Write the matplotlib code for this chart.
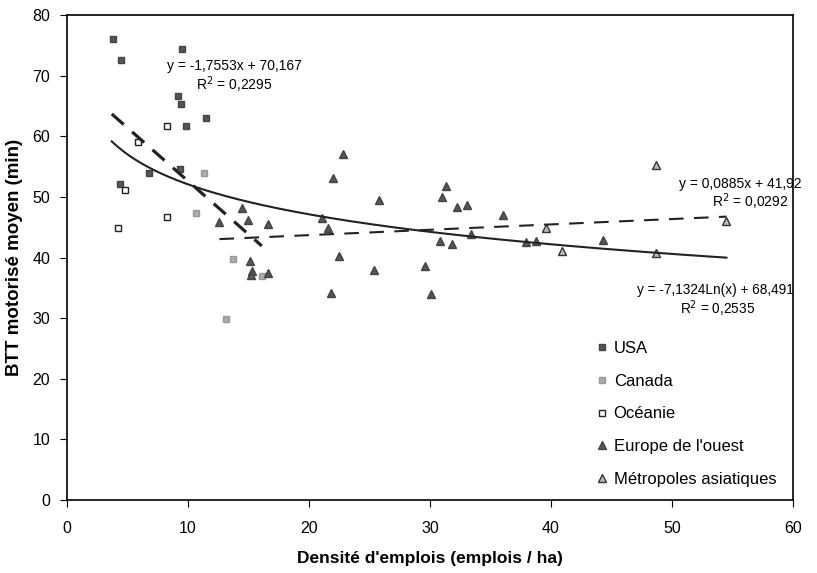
import numpy as np
import matplotlib
matplotlib.use('Agg')
import matplotlib.pyplot as plt

plt.rcParams['font.family'] = ['Liberation Sans', 'DejaVu Sans']

# points (densite d'emplois, BTT moyen)
usa_x = [3.8, 4.5, 9.5, 9.2, 9.4, 9.8, 11.5, 6.8, 9.3, 4.4]
usa_y = [76.0, 72.6, 74.4, 66.7, 65.3, 61.7, 63.0, 53.9, 54.6, 52.1]
canada_x = [11.3, 10.7, 13.7, 16.1, 13.1]
canada_y = [53.9, 47.3, 39.8, 37.0, 29.8]
oceanie_x = [8.3, 5.9, 4.8, 8.3, 4.2]
oceanie_y = [61.7, 59.0, 51.2, 46.6, 44.8]
europe_x = [14.5, 12.6, 15.0, 16.6, 15.1, 15.3, 15.2, 16.6, 22.8, 22.0, 25.8, 31.3, 31.0,
            32.2, 33.1, 21.1, 21.6, 22.5, 25.4, 21.8, 29.6, 30.1, 30.8, 31.8, 33.4,
            36.0, 37.9, 38.8, 44.3]
europe_y = [48.1, 45.9, 46.2, 45.5, 39.5, 37.8, 37.1, 37.5, 57.1, 53.1, 49.5, 51.8, 50.0,
            48.3, 48.7, 46.5, 44.8, 40.3, 38.0, 34.2, 38.6, 34.0, 42.7, 42.2, 43.9,
            47.0, 42.5, 42.7, 42.9]
asie_x = [39.6, 40.9, 48.7, 48.7, 54.5]
asie_y = [44.9, 41.1, 55.2, 40.7, 46.0]

# droites de tendance (equations affichees)
lin1_x = np.linspace(3.7, 16.1, 50)
lin1_y = -1.7553 * lin1_x + 70.167
lin2_x = np.linspace(12.6, 54.5, 50)
lin2_y = 0.0885 * lin2_x + 41.92
log_x = np.linspace(3.7, 54.5, 200)
log_y = -7.1324 * np.log(log_x) + 68.491

fig = plt.figure(figsize=(8.17, 5.73), dpi=100)
ax = fig.add_axes([0.082, 0.1274, 0.8886, 0.8464])

ax.plot(usa_x, usa_y, 's', ms=4.5, color='#555555', mec='#444444', label='USA')
ax.plot(canada_x, canada_y, 's', ms=4.5, color='#aaaaaa', mec='#999999', label='Canada')
ax.plot(oceanie_x, oceanie_y, 's', ms=4.5, mfc='white', mec='#222222', mew=1.0, label='Océanie')
ax.plot(europe_x, europe_y, '^', ms=6, color='#555555', mec='#444444', label="Europe de l'ouest")
ax.plot(asie_x, asie_y, '^', ms=5.5, mfc='#bbbbbb', mec='#333333', mew=1.0, label='Métropoles asiatiques')

ax.plot(lin1_x, lin1_y, color='#222222', lw=2.3, dashes=(5, 3.5))
ax.plot(lin2_x, lin2_y, color='#222222', lw=1.5, dashes=(7, 5))
ax.plot(log_x, log_y, color='#222222', lw=1.5)

ax.text(13.8, 71.0, 'y = -1,7553x + 70,167', fontsize=10, ha='center')
ax.text(13.8, 67.7, 'R$^2$ = 0,2295', fontsize=10, ha='center')
ax.text(60.7, 51.4, 'y = 0,0885x + 41,92', fontsize=10, ha='right')
ax.text(56.5, 48.4, 'R$^2$ = 0,0292', fontsize=10, ha='center')
ax.text(53.6, 33.9, 'y = -7,1324Ln(x) + 68,491', fontsize=9.8, ha='center')
ax.text(53.8, 30.6, 'R$^2$ = 0,2535', fontsize=9.8, ha='center')

ax.set_xlim(0, 60)
ax.set_ylim(0, 80)
ax.set_xticks(range(0, 61, 10))
ax.set_yticks(range(0, 81, 10))
ax.tick_params(direction='out', length=5, labelsize=11.5)
ax.tick_params(axis='x', pad=10)
ax.tick_params(axis='y', pad=7)
for s in ax.spines.values():
    s.set_linewidth(1.2)

ax.set_xlabel("Densité d'emplois (emplois / ha)", fontsize=12.5, fontweight='bold', labelpad=11)
ax.set_ylabel('BTT motorisé moyen (min)', fontsize=13.5, fontweight='bold', labelpad=7)

ax.legend(loc='upper left', bbox_to_anchor=(0.714, 0.342), frameon=False, fontsize=12,
          handletextpad=0.1, labelspacing=1.07, handlelength=1.2, borderaxespad=0)

fig.savefig('out.png', dpi=100)
